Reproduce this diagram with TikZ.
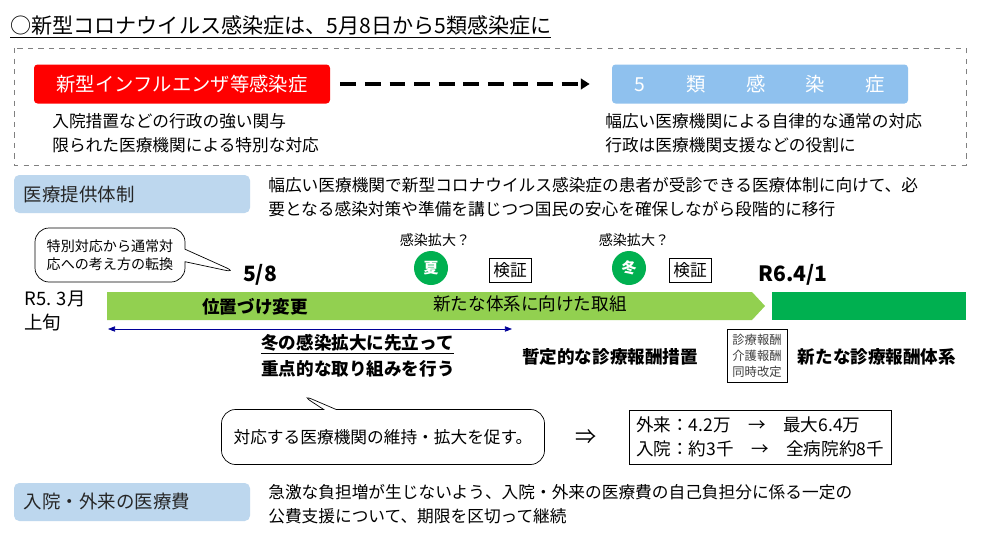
\documentclass[tikz,border=0pt]{standalone}
\usepackage{fontspec}
\setmainfont{Noto Sans CJK JP}
\usetikzlibrary{positioning,arrows.meta,shapes.callouts,shapes.arrows}
\definecolor{barlight}{HTML}{92D050}
\definecolor{bardark}{HTML}{00B050}
\definecolor{headblue}{HTML}{BDD7EE}
\definecolor{fiveblue}{HTML}{8FC1EE}
\tikzset{
  head/.style={fill=headblue,rounded corners=3pt,minimum width=236*0.02cm,minimum height=38*0.02cm,text width=216*0.02cm,align=left,font=\fontsize{10.5}{12}\selectfont,text=black!85},
  body/.style={font=\fontsize{9.5}{13.5}\selectfont,anchor=west,align=left,inner sep=0pt},
  small/.style={font=\fontsize{8}{10}\selectfont},
  bold/.style={font=\fontsize{10}{13}\selectfont\bfseries},
  season/.style={circle,fill=bardark,text=white,minimum size=34*0.02cm,inner sep=0pt,font=\fontsize{8.5}{9}\selectfont\bfseries},
  check/.style={draw,inner sep=2.5pt,font=\fontsize{9.5}{10}\selectfont}
}
\begin{document}
\begin{tikzpicture}[x=0.02cm,y=-0.02cm]
        \useasboundingbox[fill=white] (0,0) rectangle (981,545);
        % Title
        \node[anchor=west,inner sep=0pt,font=\fontsize{12}{14}\selectfont] (title) at (10,27)
          {\underline{○新型コロナウイルス感染症は、5月8日から5類感染症に}};
        % Upper dashed panel
        \draw[gray,dashed] (14,48) rectangle (966,165);
        \node[fill=red,text=white,minimum width=296*0.02cm,minimum height=39*0.02cm,rounded corners=2pt,font=\fontsize{11}{13}\selectfont] (flu) at (182,84) {新型インフルエンザ等感染症};
        \node[fill=fiveblue,text=white,minimum width=296*0.02cm,minimum height=39*0.02cm,rounded corners=2pt,font=\fontsize{11}{13}\selectfont] (five) at (760,84) {5\hspace{2.1em}類\hspace{2.1em}感\hspace{2.1em}染\hspace{2.1em}症};
        \draw[line width=1.8pt,dash pattern=on 9pt off 5pt,-{Triangle[length=5pt,width=6pt]}] (flu.east) ++(10,0) coordinate (d0) -- ([xshift=-22*0.02cm]five.west);
        \node[body] (oldtxt) at (52,133) {入院措置などの行政の強い関与\\限られた医療機関による特別な対応};
        \node[body] (newtxt) at (605,133) {幅広い医療機関による自律的な通常の対応\\行政は医療機関支援などの役割に};
        % Medical care system
        \node[head] (care) at (132,194) {医療提供体制};
        \node[body] (caretxt) at (268,197) {幅広い医療機関で新型コロナウイルス感染症の患者が受診できる医療体制に向けて、必\\要となる感染対策や準備を講じつつ国民の安心を確保しながら段階的に移行};
        % Timeline
        \node[rectangle callout,draw,rounded corners=8pt,small,align=left,minimum width=150*0.02cm,minimum height=54*0.02cm,callout absolute pointer={(238,273)}] (shift) at (110,255) {特別対応から通常対\\応への考え方の転換};
        \node[font=\fontsize{12}{13}\selectfont\bfseries] (may8) at (260,275) {5/8};
        \node[body,font=\fontsize{10.5}{14}\selectfont] (start) at (24,311) {R5. 3月\\上旬};
        \fill[barlight] (107,292) -- (752,292) -- (765,306) -- (752,320) -- (107,320) -- cycle;
        \fill[bardark] (772,292) rectangle (966,320);
        \node[bold] (label1) at (255,307) {位置づけ変更};
        \node[font=\fontsize{10}{12}\selectfont] (label2) at (530,304) {新たな体系に向けた取組};
        \coordinate (spanA) at (108,329);
        \coordinate (spanB) at (512,329);
        \draw[blue!60!black,{Triangle[length=4pt,width=3pt]}-{Triangle[length=4pt,width=3pt]}] (spanA) -- (spanB);
        \node[bold,align=left,font=\fontsize{10}{15}\selectfont\bfseries] (winter) at (358,356) {\underline{冬の感染拡大に先立って}\\重点的な取り組みを行う};
        \node[small] (q1) at (435,240) {感染拡大？};
        \node[small] (q2) at (634,240) {感染拡大？};
        \node[season] (summer) at (431,268) {夏};
        \node[season] (wint) at (629,268) {冬};
        \node[check] (chk1) at (510,270) {検証};
        \node[check] (chk2) at (690,270) {検証};
        \node[font=\fontsize{12}{13}\selectfont\bfseries] (apr1) at (793,275) {R6.4/1};
        \node[bold] (interim) at (610,357) {暫定的な診療報酬措置};
        \node[draw,align=center,inner sep=3pt,font=\fontsize{7}{9}\selectfont,text=black!75] (revise) at (757,356) {診療報酬\\介護報酬\\同時改定};
        \node[bold] (newfee) at (877,357) {新たな診療報酬体系};
        % Callout and figures
        \node[rectangle callout,draw,rounded corners=8pt,minimum width=323*0.02cm,minimum height=55*0.02cm,font=\fontsize{9.5}{12}\selectfont,callout absolute pointer={(300,394)}] (promote) at (383,437) {対応する医療機関の維持・拡大を促す。};
        \node[font=\fontsize{12}{14}\selectfont] (imp) at (586,437) {⇒};
        \node[draw,align=left,inner sep=4pt,font=\fontsize{10}{13.5}\selectfont] (beds) at (760,437) {外来：4.2万　→　最大6.4万\\入院：約3千　→　全病院約8千};
        % Medical expenses
        \node[head] (cost) at (132,502) {入院・外来の医療費};
        \node[body] (costtxt) at (268,504) {急激な負担増が生じないよう、入院・外来の医療費の自己負担分に係る一定の\\公費支援について、期限を区切って継続};
\end{tikzpicture}
\end{document}
